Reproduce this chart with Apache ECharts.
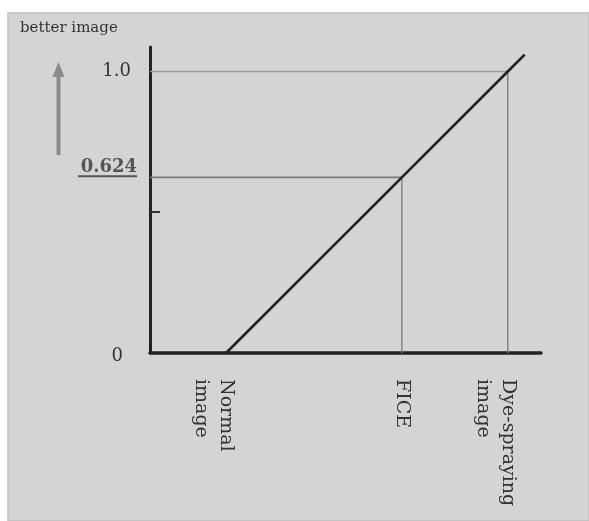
<!DOCTYPE html>
<html>
<head>
<meta charset="utf-8">
<script src="https://cdn.jsdelivr.net/npm/echarts@6/dist/echarts.min.js"></script>
<style>
html,body{margin:0;padding:0;background:#fff;}
#chart{width:589px;height:521px;}
</style>
</head>
<body>
<div id="chart"></div>
<script>
// ---- data ----
const categories = ['Normal\nimage', 'FICE', 'Dye-spraying\nimage'];
const scores = [0, 0.624, 1.0];           // evaluation score of each image type
const yTickLabels = ['0', '0.624', '1.0'];
const yMinorTicks = [0.5];
const lineEnd = 1.06;                     // diagonal continues a bit past 1.0
const yTitle = 'better image';

// ---- axis ranges ----
const xMin = -0.27, xMax = 1.118;
const yMin = 0, yMax = 1.087;

const chart = echarts.init(document.getElementById('chart'), null, {renderer: 'canvas'});

const serif = 'DejaVu Serif';

// diagonal line through the category points
const diag = scores.map(s => [s, s]).concat([[lineEnd, lineEnd]]);

// guide lines for each scored category above zero
const guideSeries = [];
scores.forEach((s, i) => {
  if (s <= 0) return;
  guideSeries.push({
    type: 'line', data: [[s, yMin], [s, s]], symbol: 'none', silent: true,
    lineStyle: {color: '#7c7c7c', width: 1.4}, z: 2
  });
  guideSeries.push({
    type: 'line', data: [[xMin, s], [s, s]], symbol: 'none', silent: true,
    lineStyle: {color: i === scores.length - 1 ? '#9a9a9a' : '#7a7a7a', width: 1.6}, z: 2
  });
});

function catLabel(v) {
  const i = scores.findIndex(s => Math.abs(s - v) < 1e-6);
  if (i < 0) return '';
  const t = categories[i];
  return t.indexOf('\n') >= 0 ? '\n' + t : t;
}
function yLabel(v) {
  const i = scores.findIndex(s => Math.abs(s - v) < 1e-6);
  if (i < 0) return '';
  const t = yTickLabels[i];
  if (i === 0) return '{z|' + t + '}';
  if (i === scores.length - 1) return '{o|' + t + '}';
  return '{u|' + t + '}\n{ul|}\n{sp|}';
}

const option = {
  backgroundColor: '#ffffff',
  animation: false,
  grid: {left: 150, right: 48, top: 47, bottom: 168, containLabel: false},
  graphic: [
    {type: 'rect', z: -10, silent: true,
     shape: {x: 8, y: 13, width: 581, height: 508},
     style: {fill: '#d4d4d6', stroke: '#bfbfc1', lineWidth: 1.5}},
    {type: 'text', left: 20, top: 21, z: 10,
     style: {text: yTitle, font: '15px "' + serif + '"', fill: '#333'}},
    {type: 'rect', z: 10, shape: {x: 56.5, y: 74, width: 4, height: 81}, style: {fill: '#8a8a8a'}},
    {type: 'polygon', z: 10, shape: {points: [[52.5, 77], [64.5, 77], [58.5, 62]]}, style: {fill: '#8a8a8a'}}
  ],
  xAxis: {
    type: 'value', min: xMin, max: xMax,
    splitLine: {show: false},
    axisLine: {show: true, onZero: false, lineStyle: {color: '#222', width: 3.5}},
    axisTick: {show: false},
    axisLabel: {
      customValues: scores,
      formatter: catLabel,
      rotate: -90,
      margin: 26,
      fontFamily: serif, fontSize: 19, lineHeight: 25, color: '#333'
    }
  },
  yAxis: {
    type: 'value', min: yMin, max: yMax,
    splitLine: {show: false},
    axisLine: {show: true, onZero: false, lineStyle: {color: '#222', width: 3}},
    axisTick: {show: true, inside: true, length: 10, customValues: yMinorTicks,
               lineStyle: {color: '#333', width: 2}},
    axisLabel: {
      customValues: scores,
      formatter: yLabel,
      margin: 13,
      rich: {
        z: {fontFamily: serif, fontSize: 18, color: '#333', padding: [7, 14, 0, 0]},
        o: {fontFamily: serif, fontSize: 18, color: '#333', padding: [0, 6, 0, 0]},
        u: {fontFamily: serif, fontSize: 18, fontWeight: 'bold', color: '#555', lineHeight: 16},
        ul: {width: 59, height: 2, lineHeight: 2, backgroundColor: '#555'},
        sp: {height: 18, lineHeight: 18}
      }
    }
  },
  series: [
    {type: 'line', data: diag, symbol: 'none', silent: true,
     lineStyle: {color: '#222', width: 2.6}, z: 5}
  ].concat(guideSeries)
};
chart.setOption(option);
</script>
</body>
</html>
